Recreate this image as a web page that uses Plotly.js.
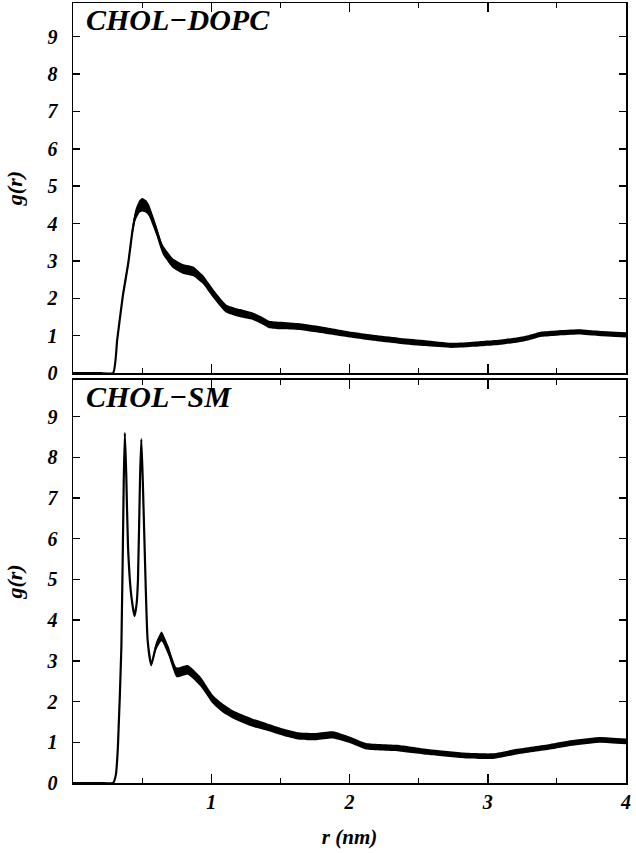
<!DOCTYPE html>
<html>
<head>
<meta charset="utf-8">
<script src="https://cdn.plot.ly/plotly-3.0.1.min.js"></script>
<style>html,body{margin:0;padding:0;background:#fff;}#chart{width:636px;height:853px;}</style>
</head>
<body>
<div id="chart"></div>
<script>
// CHOL-DOPC radial distribution function (top panel)
const r_dopc = [0, 0.1, 0.2, 0.29, 0.32, 0.36, 0.40, 0.43, 0.45, 0.48, 0.50, 0.53, 0.55, 0.60, 0.65, 0.72, 0.80, 0.87, 0.94, 1.01, 1.11, 1.21, 1.30, 1.36, 1.42, 1.50, 1.64, 1.79, 2.00, 2.20, 2.37, 2.55, 2.74, 2.90, 3.00, 3.10, 3.22, 3.30, 3.39, 3.50, 3.66, 3.80, 4.00];
const g_dopc = [0, 0, 0, 0, 0.9, 2.05, 2.95, 3.8, 4.2, 4.45, 4.5, 4.45, 4.35, 3.85, 3.3, 2.95, 2.78, 2.72, 2.5, 2.15, 1.72, 1.6, 1.52, 1.42, 1.3, 1.27, 1.24, 1.16, 1.03, 0.93, 0.86, 0.8, 0.74, 0.77, 0.8, 0.83, 0.89, 0.95, 1.04, 1.07, 1.1, 1.06, 1.02];
// half-thickness of the noise band around the DOPC curve
const noise_dopc = [0, 0, 0, 0, 0.05, 0.08, 0.1, 0.13, 0.15, 0.17, 0.18, 0.17, 0.16, 0.14, 0.13, 0.13, 0.13, 0.13, 0.12, 0.12, 0.11, 0.11, 0.1, 0.1, 0.1, 0.1, 0.09, 0.09, 0.08, 0.08, 0.08, 0.08, 0.07, 0.07, 0.07, 0.07, 0.07, 0.07, 0.07, 0.07, 0.07, 0.07, 0.07];

// CHOL-SM radial distribution function (bottom panel)
const r_sm = [0, 0.1, 0.2, 0.29, 0.31, 0.325, 0.35, 0.367, 0.375, 0.385, 0.398, 0.42, 0.445, 0.46, 0.47, 0.485, 0.494, 0.505, 0.518, 0.54, 0.566, 0.60, 0.64, 0.69, 0.75, 0.83, 0.92, 1.01, 1.08, 1.16, 1.30, 1.40, 1.52, 1.64, 1.76, 1.88, 2.00, 2.12, 2.37, 2.60, 2.85, 3.04, 3.21, 3.45, 3.60, 3.81, 4.00];
const g_sm = [0, 0, 0, 0, 0.2, 0.9, 3.35, 7.4, 8.6, 7.6, 5.8, 4.65, 4.1, 4.4, 5.0, 7.5, 8.45, 7.4, 5.8, 3.5, 2.9, 3.35, 3.6, 3.25, 2.72, 2.78, 2.5, 2.06, 1.85, 1.68, 1.48, 1.38, 1.25, 1.15, 1.14, 1.18, 1.06, 0.9, 0.85, 0.75, 0.67, 0.66, 0.77, 0.89, 0.98, 1.06, 1.02];
const noise_sm = [0, 0, 0, 0, 0, 0, 0, 0, 0, 0, 0, 0, 0, 0, 0, 0, 0, 0, 0, 0, 0.04, 0.1, 0.12, 0.12, 0.12, 0.12, 0.12, 0.11, 0.11, 0.1, 0.1, 0.09, 0.09, 0.09, 0.09, 0.09, 0.08, 0.08, 0.08, 0.07, 0.07, 0.07, 0.07, 0.07, 0.07, 0.07, 0.07];

const panelLabels = ["CHOL\u2212DOPC", "CHOL\u2212SM"];
const xTicks = [1, 2, 3, 4];
const yTicks = [0, 1, 2, 3, 4, 5, 6, 7, 8, 9];

const FONT = "'Liberation Serif', 'DejaVu Serif', serif";
const lab = {family: FONT, size: 20, color: "#000", weight: 700, style: "italic"};

function band(r, g, n, xa, ya) {
  const lo = g.map((v, i) => v - n[i]);
  const hi = g.map((v, i) => v + n[i]);
  const ln = {width: 0, color: "#000", shape: "spline", smoothing: 0.5};
  return [
    {x: r, y: lo, xaxis: xa, yaxis: ya, mode: "lines", line: ln, hoverinfo: "skip", showlegend: false},
    {x: r, y: hi, xaxis: xa, yaxis: ya, mode: "lines", fill: "tonexty", fillcolor: "#000", line: ln, hoverinfo: "skip", showlegend: false},
    {x: r, y: g, xaxis: xa, yaxis: ya, mode: "lines", line: {width: 2.2, color: "#000", shape: "spline", smoothing: 0.5}, showlegend: false}
  ];
}

const data = [].concat(
  band(r_dopc, g_dopc, noise_dopc, "x", "y"),
  band(r_sm, g_sm, noise_sm, "x2", "y2")
);

function xaxis(showLabels, anchor) {
  const a = {
    anchor: anchor, range: [0, 4], tickvals: xTicks, ticks: "inside", ticklen: 9, tickwidth: 1.5, tickcolor: "#000",
    showline: true, linecolor: "#000", linewidth: 1.5, mirror: "ticks", showgrid: false, zeroline: false,
    showticklabels: showLabels, tickfont: lab,
    minor: {tickvals: [0.5, 1.5, 2.5, 3.5], ticks: "inside", ticklen: 5, tickwidth: 1.2, tickcolor: "#000", showgrid: false}
  };
  if (showLabels) {
    a.title = {text: "r (nm)", font: {family: FONT, size: 21, color: "#000", weight: 700, style: "italic"}, standoff: 18};
  }
  return a;
}
function yaxis(domain, anchor) {
  return {
    anchor: anchor, domain: domain, range: [0, 9.9], tickvals: yTicks, ticks: "inside", ticklen: 7, tickwidth: 1.5, tickcolor: "#000",
    showline: true, linecolor: "#000", linewidth: 1.5, mirror: "ticks", showgrid: false, zeroline: false,
    tickfont: lab, ticklabelstandoff: 10,
    title: {text: "g(r)", font: {family: FONT, size: 22, color: "#000", weight: 700, style: "italic"}, standoff: 18}
  };
}

const layout = {
  width: 636, height: 853,
  margin: {l: 73, r: 10, t: 3, b: 70},
  paper_bgcolor: "#fff", plot_bgcolor: "#fff",
  showlegend: false,
  font: {family: FONT},
  xaxis: xaxis(false, "y"),
  yaxis: yaxis([0.5256, 1], "x"),
  xaxis2: xaxis(true, "y2"),
  yaxis2: yaxis([0, 0.5167], "x2"),
  annotations: [
    {text: panelLabels[0], xref: "x", yref: "y", x: 0.08, y: 9.9, yshift: 2, xanchor: "left", yanchor: "top", showarrow: false,
     font: {family: FONT, size: 30, color: "#000", weight: 700, style: "italic"}},
    {text: panelLabels[1], xref: "x2", yref: "y2", x: 0.08, y: 9.9, yshift: 2, xanchor: "left", yanchor: "top", showarrow: false,
     font: {family: FONT, size: 30, color: "#000", weight: 700, style: "italic"}}
  ]
};

Plotly.newPlot("chart", data, layout, {staticPlot: true, displayModeBar: false});
</script>
</body>
</html>
